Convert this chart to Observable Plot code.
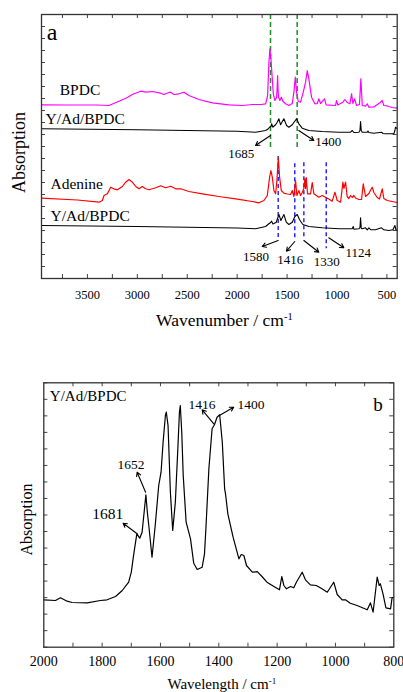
<!DOCTYPE html>
<html><head><meta charset="utf-8">
<script src="https://cdn.jsdelivr.net/npm/d3@7"></script>
<script src="https://cdn.jsdelivr.net/npm/@observablehq/plot@0.6"></script>
<style>
body{margin:0;background:#fff;}
#chart{width:403px;}
#chart svg{display:block;font-family:"Liberation Serif","DejaVu Serif",serif !important;}
#chart svg text{font-family:"Liberation Serif","DejaVu Serif",serif !important;}
</style></head><body><div id="chart"></div>
<script>
// ---------- Panel a data: [wavenumber, absorption (arb.)] ----------
const bpdc = [[3960,173.7],[3700,173.5],[3400,173.5],[3284,173],[3184,177.3],[3100,181],[3050,184],[2966,187.3],[2916,186.3],[2849,187],[2766,185.3],[2733,184],[2700,185.5],[2666,186.3],[2633,184],[2583,184.7],[2533,186.3],[2483,183],[2383,179],[2249,175.7],[2083,173.7],[1948,173],[1848,174],[1760,174],[1715,174.7],[1695,183],[1682,216.3],[1672,229.7],[1662,220],[1655,209.7],[1638,184.7],[1622,178],[1605,181],[1600,190],[1595,203],[1590,188],[1585,181.3],[1572,178],[1558,181.3],[1542,177.3],[1515,174.7],[1482,173],[1448,175],[1432,186.3],[1418,201.3],[1405,186.3],[1388,177],[1365,176.3],[1338,186.3],[1315,196.3],[1298,208],[1282,199.7],[1255,181.3],[1222,174.7],[1198,175],[1182,179.7],[1165,175],[1125,179.7],[1108,173.7],[1015,173],[1005,178],[992,173.5],[941,176.3],[921,179],[897,176],[871,174.7],[854,184.7],[841,175],[824,179.7],[804,173],[775,174],[761,199.7],[747,173],[714,172.3],[697,174.7],[681,171.3],[631,171.5],[564,176.3],[547,178],[531,173],[497,172.7],[481,172],[447,171],[397,170.3]];
const yAdUpper = [[3960,149.7],[3000,148.8],[2000,147.2],[1815,146.3],[1715,148],[1690,149.5],[1675,151.3],[1662,152],[1655,154.7],[1642,151.3],[1630,152.5],[1615,153.7],[1600,156],[1582,159.7],[1565,153.7],[1548,157],[1532,159.7],[1505,153],[1482,151.3],[1448,153.7],[1425,157],[1405,159.7],[1382,154.7],[1348,150.3],[1282,148],[1148,147],[981,146.3],[864,146.3],[847,148],[831,146],[781,146.3],[770,148],[764,157],[757,148],[747,146.3],[697,146.3],[690,147.5],[681,146],[631,145.3],[554,146.3],[540,145],[514,144.7],[431,144.7],[420,148],[414,151.3],[397,150]];
const adenine = [[3960,80.3],[3600,78.5],[3384,76.3],[3350,78],[3334,83],[3300,84.7],[3267,91.3],[3234,89.7],[3200,88.7],[3150,92],[3117,96.3],[3084,99],[3050,96.3],[3016,92],[2983,89.7],[2950,92],[2916,89.7],[2883,88.7],[2816,90.7],[2766,92.7],[2716,90.7],[2666,92.3],[2616,89.7],[2566,89.7],[2483,87],[2349,84.7],[2183,82],[2016,79.7],[1848,77],[1782,75.7],[1732,78],[1698,83],[1675,101.3],[1662,108],[1648,101.3],[1632,88],[1615,84.7],[1602,98],[1588,120.5],[1575,101.3],[1558,88],[1532,85.3],[1498,84.5],[1465,84],[1448,88],[1432,82],[1415,98],[1402,83],[1382,88],[1365,83],[1348,86],[1332,90],[1322,100],[1315,90],[1308,101],[1295,84.7],[1265,84.7],[1248,96],[1232,84.7],[1182,81.3],[1148,83],[1115,81.3],[1082,79.5],[1048,77.3],[1021,86.3],[998,78],[964,76.3],[941,96.3],[931,90],[914,96.3],[898,82],[881,80],[864,83],[848,81],[831,83],[814,80.5],[781,79],[754,79],[737,94.7],[714,82],[681,85],[660,89],[647,91.3],[631,86],[597,81],[574,79.5],[547,89.7],[531,80],[497,78],[447,77],[397,76]];
const yAdLower = [[3960,53],[3000,52],[2000,50.5],[1815,49.7],[1715,52],[1682,54.7],[1665,56],[1655,57.3],[1642,54.5],[1632,55],[1608,56.3],[1582,64],[1562,58],[1532,64],[1508,56.3],[1482,54],[1448,56.3],[1422,62],[1398,64],[1375,58.7],[1342,54],[1282,52],[1148,50.7],[981,49.7],[848,49.7],[837,52],[831,49.3],[781,49.7],[770,51],[764,60.7],[757,50],[747,49.7],[714,50.7],[697,48.7],[681,50.7],[660,48.7],[614,48.7],[554,50.7],[531,48.7],[481,48],[440,48.7],[420,53],[410,49],[397,48]];

// Panel a reference lines: [wavenumber, from, to]
const greenLines = [[1666,264,128],[1399,264,130]];
const blueLines = [[1589,122,38],[1423,114.7,38],[1332,115.7,39.7],[1108,115.7,29.7]];
// Panel a peak labels and arrows
const peakLabelsA = [["1685",1959,121],["1400",1087,133],["1580",1811,18],["1416",1469,14.7],["1330",1102,13],["1124",787,22]];
const arrowsA = [[1666,143,1816,133],[1383,148,1232,138],[1589,38,1749,32],[1423,37,1506,27.3],[1332,38,1182,26.3],[1082,40.7,932,30.7]];
const sampleLabelsA = [["BPDC",3777,184],["Y/Ad/BPDC",3920,154.7],["Adenine",3870,89.7],["Y/Ad/BPDC",3870,58]];
const aTickLabels = [3500,3000,2500,2000,1500,1000,500];
const aTicks = [3750,3500,3250,3000,2750,2500,2250,2000,1750,1500,1250,1000,750,500];

// ---------- Panel b data ----------
const yAdB = [[2000,47.4],[1960,46.7],[1943,49.4],[1920,46],[1903,44.7],[1851,44.4],[1806,46.7],[1783,47.4],[1754,50.7],[1731,56.7],[1709,65],[1700,75],[1694,88],[1688,100],[1681,113.4],[1671,109],[1663,115],[1656,135],[1650,152.4],[1645,135],[1640,121.7],[1629,90],[1618,121.7],[1606,161.7],[1598,175],[1591,205],[1583,232],[1580,235],[1574,221.7],[1566,155],[1558,116.7],[1549,145],[1541,195],[1535,235],[1532,241.7],[1527,215],[1522,171.7],[1512,125],[1497,108.4],[1486,84],[1474,77.7],[1457,80],[1449,93.4],[1444,120],[1434,178.4],[1423,218.4],[1415,222.4],[1406,230],[1397,232.4],[1388,205],[1380,158.4],[1377,153.4],[1369,133.4],[1351,110],[1331,88.4],[1323,92.7],[1314,91.7],[1305,81.7],[1285,75],[1268,75.5],[1252,70.7],[1235,65],[1211,60.7],[1192,57.4],[1184,70.7],[1177,61.7],[1168,58.4],[1154,60.7],[1143,59.4],[1134,65],[1114,75],[1103,67.4],[1086,62.4],[1066,61.7],[1046,58.4],[1028,55],[1017,60],[1006,65],[994,52.7],[977,47.4],[966,47.4],[949,44],[926,41.7],[891,37.4],[880,44.4],[871,35],[857,70],[850,61.7],[846,63.4],[837,53.4],[827,39.4],[811,38.4],[806,49.4],[800,50]];
const peakLabelsB = [["1416",1458,238.4],["1400",1289.6,238.7],["1652",1701,178.4]];
const peakLabelsB2 = [["1681",1781,128.4]];
const arrowsB = [[1417,223.4,1457,237.4],[1398,231.7,1349,240],[1651,155,1680,175],[1680,113.4,1728,124]];
const bTickLabels = [2000,1800,1600,1400,1200,1000,800];
const bTicks = [1900,1800,1700,1600,1500,1400,1300,1200,1100,1000,900];

// ---------- helpers ----------
const serif = "Liberation Serif";
const pts = arr => arr.map(([w, v]) => ({w, v}));
const lbl = arr => arr.map(([t, w, v]) => ({t, w, v}));
const arw = arr => arr.map(([x1, y1, x2, y2]) => ({x1, y1, x2, y2}));
const vlines = arr => arr.map(([w, y1, y2]) => ({w, y1, y2}));
const frameCol = "#333";
const T = {fill: "black", fontFamily: serif};

function supLabel(svg, full, base, sup) {
  svg.querySelectorAll("text").forEach(t => {
    if (t.textContent === full) {
      t.textContent = base;
      const ts = document.createElementNS("http://www.w3.org/2000/svg", "tspan");
      ts.setAttribute("dy", "-0.5em");
      ts.setAttribute("font-size", "0.6em");
      ts.textContent = sup;
      t.appendChild(ts);
    }
  });
}

// ---------- Panel a ----------
const aLeft = 3960, aRight = 397, aTop = 264;
const aYTicks = d3.range(0, aTop + 0.1, 12);
const panelA = Plot.plot({
  width: 403, height: 330,
  marginTop: 14, marginBottom: 52, marginLeft: 41, marginRight: 6.3,
  style: {fontFamily: serif, fontSize: "12.5px", background: "white", color: "black", overflow: "visible"},
  x: {domain: [aLeft, aRight], label: null},
  y: {domain: [0, aTop], axis: null},
  marks: [
    Plot.ruleX(aTicks, {x: d => d, y1: 0, y2: 4, stroke: "#444", strokeWidth: 1}),
    Plot.ruleX(aTicks, {x: d => d, y1: aTop, y2: aTop - 4, stroke: "#444", strokeWidth: 1}),
    Plot.ruleY(aYTicks, {y: d => d, x1: aLeft, x2: aLeft - 40, stroke: "#444", strokeWidth: 1}),
    Plot.ruleY(aYTicks, {y: d => d, x1: aRight, x2: aRight + 40, stroke: "#444", strokeWidth: 1}),
    Plot.ruleX(vlines(greenLines), {x: "w", y1: "y1", y2: "y2", stroke: "#1f8f1f", strokeWidth: 1.5, strokeDasharray: "5,3"}),
    Plot.ruleX(vlines(blueLines), {x: "w", y1: "y1", y2: "y2", stroke: "#1a1aff", strokeWidth: 1.4, strokeDasharray: "4,3"}),
    Plot.line(pts(bpdc), {x: "w", y: "v", stroke: "#ff00ff", strokeWidth: 1.2}),
    Plot.line(pts(yAdUpper), {x: "w", y: "v", stroke: "black", strokeWidth: 1.1}),
    Plot.line(pts(adenine), {x: "w", y: "v", stroke: "#ff0000", strokeWidth: 1.2}),
    Plot.line(pts(yAdLower), {x: "w", y: "v", stroke: "black", strokeWidth: 1.1}),
    Plot.arrow(arw(arrowsA), {x1: "x1", y1: "y1", x2: "x2", y2: "y2", stroke: "black", strokeWidth: 1.1, headLength: 6}),
    Plot.text(lbl(peakLabelsA), {x: "w", y: "v", text: "t", fontSize: 13, textAnchor: "middle", lineAnchor: "bottom", ...T}),
    Plot.text(lbl(sampleLabelsA), {x: "w", y: "v", text: "t", fontSize: 15.5, textAnchor: "start", lineAnchor: "bottom", ...T}),
    Plot.text(["a"], {x: 3908, y: 238.5, text: d => d, fontSize: 24, textAnchor: "start", lineAnchor: "bottom", ...T}),
    Plot.frame({stroke: frameCol, strokeWidth: 1.3}),
    Plot.axisX({ticks: aTickLabels, tickSize: 0, tickPadding: 12, fontSize: 12.5, fontFamily: serif, label: null, tickFormat: d => String(d)}),
    Plot.text(["Absorption"], {frameAnchor: "left", rotate: -90, dx: -17, dy: 6, textAnchor: "middle", lineAnchor: "bottom", fontSize: 18, ...T}),
    Plot.text(["Wavenumber / cm-1"], {frameAnchor: "bottom", dx: 5, dy: 47, textAnchor: "middle", lineAnchor: "bottom", fontSize: 17.5, ...T})
  ]
});
supLabel(panelA, "Wavenumber / cm-1", "Wavenumber / cm", "-1");

// ---------- Panel b ----------
const bLeft = 2000, bRight = 800, bTop = 264.4;
const bYTicks = d3.range(0, bTop + 0.1, bTop / 16);
const panelB = Plot.plot({
  width: 403, height: 362,
  marginTop: 52.3, marginBottom: 45.3, marginLeft: 43.3, marginRight: 9.7,
  style: {fontFamily: serif, fontSize: "14px", background: "white", color: "black", overflow: "visible"},
  x: {domain: [bLeft, bRight], label: null},
  y: {domain: [0, bTop], axis: null},
  marks: [
    Plot.ruleX(bTicks, {x: d => d, y1: 0, y2: 4, stroke: "#444", strokeWidth: 1}),
    Plot.ruleX(bTicks, {x: d => d, y1: bTop, y2: bTop - 4, stroke: "#444", strokeWidth: 1}),
    Plot.ruleY(bYTicks, {y: d => d, x1: bLeft, x2: bLeft - 14, stroke: "#444", strokeWidth: 1}),
    Plot.ruleY(bYTicks, {y: d => d, x1: bRight, x2: bRight + 14, stroke: "#444", strokeWidth: 1}),
    Plot.line(pts(yAdB), {x: "w", y: "v", stroke: "black", strokeWidth: 1.2}),
    Plot.arrow(arw(arrowsB), {x1: "x1", y1: "y1", x2: "x2", y2: "y2", stroke: "black", strokeWidth: 1.1, headLength: 6}),
    Plot.text(lbl(peakLabelsB), {x: "w", y: "v", text: "t", fontSize: 13.5, textAnchor: "middle", lineAnchor: "bottom", ...T}),
    Plot.text(lbl(peakLabelsB2), {x: "w", y: "v", text: "t", fontSize: 15.5, textAnchor: "middle", lineAnchor: "bottom", ...T}),
    Plot.text(["Y/Ad/BPDC"], {x: 1979.4, y: 246.7, text: d => d, fontSize: 15, textAnchor: "start", lineAnchor: "bottom", ...T}),
    Plot.text(["b"], {x: 870.6, y: 236.7, text: d => d, fontSize: 19, textAnchor: "start", lineAnchor: "bottom", ...T}),
    Plot.frame({stroke: frameCol, strokeWidth: 1.3}),
    Plot.axisX({ticks: bTickLabels, tickSize: 0, tickPadding: 9, fontSize: 14, fontFamily: serif, label: null, tickFormat: d => String(d)}),
    Plot.text(["Absorption"], {frameAnchor: "left", rotate: -90, dx: -12, dy: 4.5, textAnchor: "middle", lineAnchor: "bottom", fontSize: 16, ...T}),
    Plot.text(["Wavelength / cm-1"], {frameAnchor: "bottom", dx: 3, dy: 41.3, textAnchor: "middle", lineAnchor: "bottom", fontSize: 15, ...T})
  ]
});
supLabel(panelB, "Wavelength / cm-1", "Wavelength / cm", "-1");

for (const svg of [panelA, panelB]) {
  svg.setAttribute("font-family", "Liberation Serif, DejaVu Serif, serif");
}
document.getElementById("chart").append(panelA, panelB);
</script></body></html>
